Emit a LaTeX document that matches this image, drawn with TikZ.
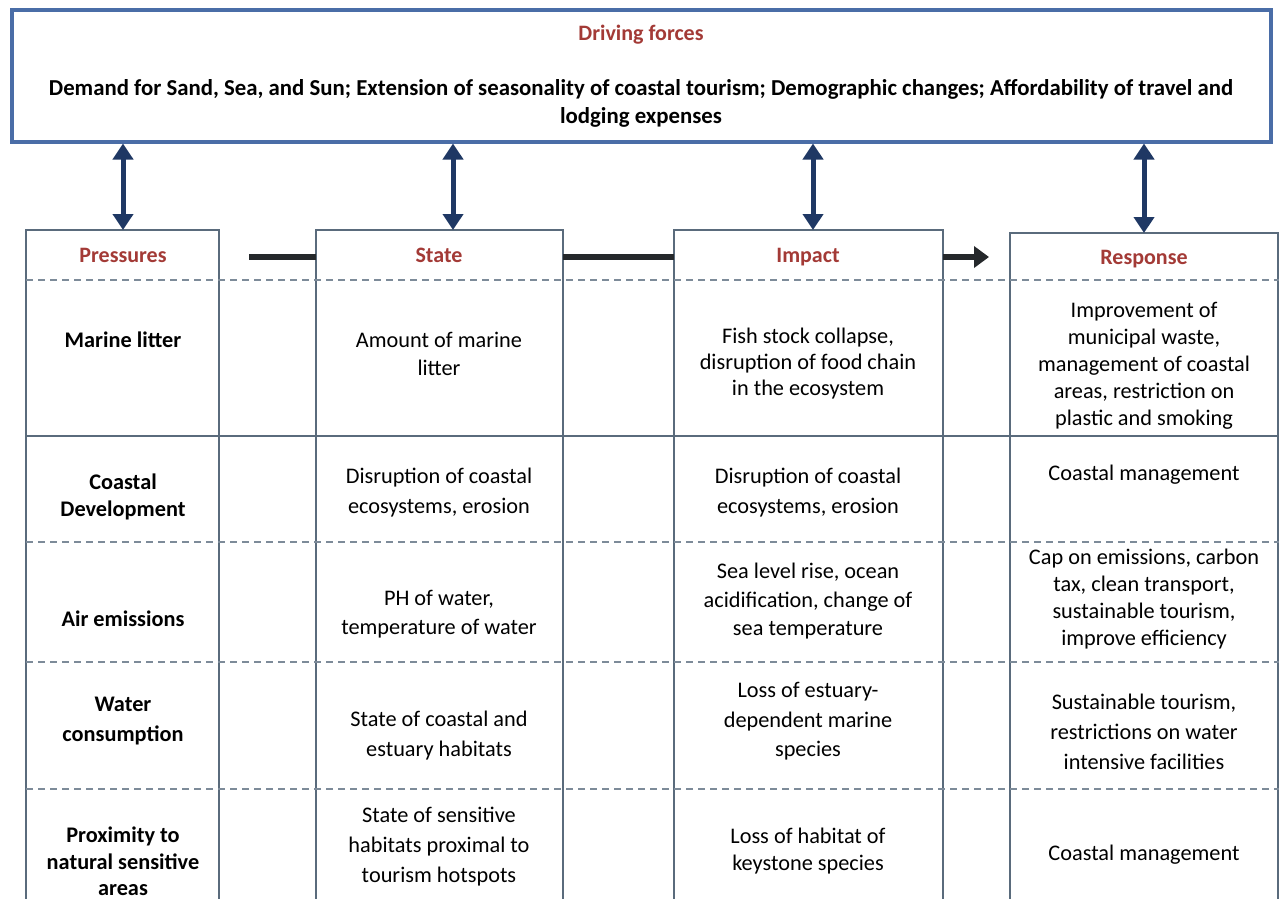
\documentclass[tikz,border=0pt]{standalone}
\usepackage{fontspec}
\setmainfont{Carlito}
\usetikzlibrary{arrows.meta}
\definecolor{topblue}{HTML}{4A6DA7}
\definecolor{navy}{HTML}{1F3864}
\definecolor{titlered}{HTML}{A33A36}
\definecolor{gridc}{HTML}{5A6B7C}
\definecolor{dashc}{HTML}{7D8B99}
\definecolor{connc}{HTML}{25282B}
\begin{document}
\begin{tikzpicture}[x=1pt,y=-1pt,
  cell/.style={align=center, font=\fontsize{22.3}{28}\selectfont, inner sep=0pt},
  pcell/.style={align=center, font=\fontsize{22.3}{28}\selectfont\bfseries, inner sep=0pt},
  head/.style={font=\fontsize{22}{28}\selectfont\bfseries, text=titlered, inner sep=0pt, text height=15pt, text depth=5pt},
  colbox/.style={draw=gridc, line width=1.3pt, anchor=north west, inner sep=0pt, outer sep=0pt, minimum height=700pt},
  dbl/.style={navy, line width=5pt, {Triangle[length=16pt,width=20pt]}-{Triangle[length=16pt,width=20pt]}},
  conn/.style={connc, line width=6pt},
  rowsolid/.style={gridc, line width=1.3pt},
  rowdash/.style={dashc, line width=1.3pt, dash pattern=on 7pt off 5pt},
]
\clip (0,0) rectangle (1279,899);
\fill[white] (0,0) rectangle (1279,899);

% Driving forces box
\node[draw=topblue, line width=4pt, minimum width=1259pt, minimum height=131pt, inner sep=0pt, outer sep=2pt] (DF) at (641.5,76) {};
\node[head] (DFt) at (641,36) {Driving forces};
\node[align=center, font=\fontsize{22.8}{28}\selectfont\bfseries, inner sep=0pt] (DFx) at (641,103) {Demand for Sand, Sea, and Sun; Extension of seasonality of coastal tourism; Demographic changes; Affordability of travel and\\lodging expenses};

% Column boxes
\node[colbox, minimum width=193pt] (P) at (26,230) {};
\node[colbox, minimum width=247pt] (S) at (316,230) {};
\node[colbox, minimum width=269pt] (I) at (674,230) {};
\node[colbox, minimum width=268pt] (R) at (1010,233) {};

% Headers
\node[head] (Ph) at (123,257) {Pressures};
\node[head] (Sh) at (439,257) {State};
\node[head] (Ih) at (808,257) {Impact};
\node[head] (Rh) at (1144,259) {Response};

% Row separators
\coordinate (L0) at (26,280);
\coordinate (L1) at (26,436);
\coordinate (L2) at (26,542);
\coordinate (L3) at (26,662);
\coordinate (L4) at (26,789);
\coordinate (RE) at (1279,0);
\draw[rowdash] (L0) -- (L0 -| RE);
\draw[rowsolid] (L1) -- (L1 -| RE);
\draw[rowdash] (L2) -- (L2 -| RE);
\draw[rowdash] (L3) -- (L3 -| RE);
\draw[rowdash] (L4) -- (L4 -| RE);

% Double arrows
\coordinate (xP) at (123,0);
\coordinate (xS) at (453,0);
\coordinate (xI) at (813,0);
\coordinate (xR) at (1144,0);
\draw[dbl] (DF.south -| xP) -- (P.north -| xP);
\draw[dbl] (DF.south -| xS) -- (S.north -| xS);
\draw[dbl] (DF.south -| xI) -- (I.north -| xI);
\draw[dbl] (DF.south -| xR) -- (R.north -| xR);

% Horizontal connectors
\draw[conn, shorten <=30pt] (P.east |- Ph) -- (S.west |- Ph);
\draw[conn] (S.east |- Sh) -- (I.west |- Sh);
\draw[conn, shorten >=21pt, -{Triangle[length=15pt,width=21pt]}] (I.east |- Ih) -- (R.west |- Ih);

% Row 1
\node[pcell] (p1) at (123,340) {Marine litter};
\node[cell] (s1) at (439,354) {Amount of marine\\litter};
\node[cell, font=\fontsize{22.3}{26}\selectfont] (i1) at (808,364) {Fish stock collapse,\\disruption of food chain\\in the ecosystem};
\node[cell, font=\fontsize{22.3}{27}\selectfont] (r1) at (1144,366) {Improvement of\\municipal waste,\\management of coastal\\areas, restriction on\\plastic and smoking};

% Row 2
\node[pcell, font=\fontsize{22.3}{27.5}\selectfont\bfseries] (p2) at (123,497) {Coastal\\Development};
\node[cell, font=\fontsize{22.3}{30}\selectfont] (s2) at (439,493) {Disruption of coastal\\ecosystems, erosion};
\node[cell, font=\fontsize{22.3}{30}\selectfont] (i2) at (808,493) {Disruption of coastal\\ecosystems, erosion};
\node[cell] (r2) at (1144,475) {Coastal management};

% Row 3
\node[pcell] (p3) at (123,619) {Air emissions};
\node[cell, font=\fontsize{22.3}{29}\selectfont] (s3) at (439,614.5) {PH of water,\\temperature of water};
\node[cell, font=\fontsize{22.3}{28.5}\selectfont] (i3) at (808,601.5) {Sea level rise, ocean\\acidification, change of\\sea temperature};
\node[cell, font=\fontsize{22.3}{27}\selectfont] (r3) at (1144,599.5) {Cap on emissions, carbon\\tax, clean transport,\\sustainable tourism,\\improve efficiency};

% Row 4
\node[pcell, font=\fontsize{22.3}{30}\selectfont\bfseries] (p4) at (123,721) {Water\\consumption};
\node[cell, font=\fontsize{22.3}{30}\selectfont] (s4) at (439,736) {State of coastal and\\estuary habitats};
\node[cell, font=\fontsize{22.3}{29.5}\selectfont] (i4) at (808,721.5) {Loss of estuary-\\dependent marine\\species};
\node[cell, font=\fontsize{22.3}{30}\selectfont] (r4) at (1144,732) {Sustainable tourism,\\restrictions on water\\intensive facilities};

% Row 5
\node[pcell, font=\fontsize{22.3}{26.5}\selectfont\bfseries] (p5) at (123,861.5) {Proximity to\\natural sensitive\\areas};
\node[cell, font=\fontsize{22.3}{30}\selectfont] (s5) at (439,847) {State of sensitive\\habitats proximal to\\tourism hotspots};
\node[cell, font=\fontsize{22.3}{27}\selectfont] (i5) at (808,851.5) {Loss of habitat of\\keystone species};
\node[cell] (r5) at (1144,855) {Coastal management};
\end{tikzpicture}
\end{document}
